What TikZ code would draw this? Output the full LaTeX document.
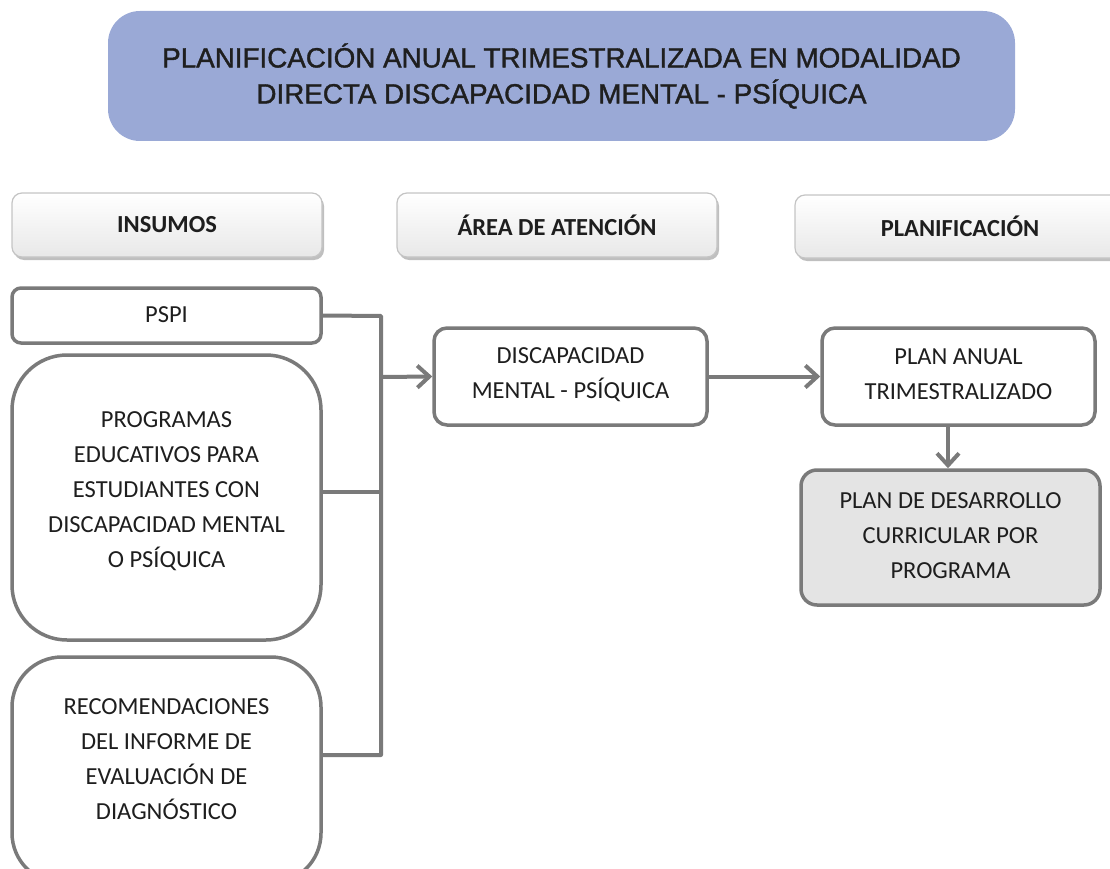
\documentclass[tikz,border=0pt]{standalone}
\usepackage{fontspec}
\setmainfont{Carlito}
\newfontfamily\titlefont[FakeBold=1.3]{Liberation Sans}
\usetikzlibrary{arrows.meta,shadows,positioning}
\definecolor{titleblue}{HTML}{9AA9D6}
\definecolor{linegray}{HTML}{7A7A7A}
\definecolor{hdrborder}{HTML}{C4C4C4}
\definecolor{boxgray}{HTML}{E4E4E4}
\definecolor{txt}{HTML}{1E1E1E}
\tikzset{
  box/.style={draw=linegray, line width=3.5pt, fill=white, align=center, text=txt, font=\fontsize{24.5}{35}\selectfont, inner sep=0pt},
  plain/.style={align=center, text=txt, font=\fontsize{24.5}{35}\selectfont, inner sep=0pt},
  hdr/.style={draw=hdrborder, line width=1.2pt, rounded corners=10pt, top color=white, bottom color=boxgray!85,
     drop shadow={shadow xshift=2pt, shadow yshift=-3pt, opacity=0.25, fill=black},
     text=txt, font=\fontsize{24.5}{25}\selectfont\bfseries, inner sep=0pt},
  conn/.style={draw=linegray, line width=4pt},
  arr/.style={conn, -{Straight Barb[length=12pt,width=22pt,line width=4pt]}},
}
\begin{document}
\begin{tikzpicture}[x=1pt,y=-1pt]
\useasboundingbox (0,0) rectangle (1110,869);
% title
\node[fill=titleblue, rounded corners=32pt, minimum width=907pt, minimum height=130pt, align=center,
  font=\titlefont\fontsize{27.8}{36}\selectfont, text=black!88] (title) at (561.5,76)
  {PLANIFICACIÓN ANUAL TRIMESTRALIZADA EN MODALIDAD\\DIRECTA DISCAPACIDAD MENTAL - PSÍQUICA};
% headers
\node[hdr, minimum width=310pt, minimum height=64pt] (h1) at (167,225) {INSUMOS};
\node[hdr, minimum width=320pt, minimum height=64pt] (h2) at (557,225) {ÁREA DE ATENCIÓN};
\node[hdr, minimum width=330pt, minimum height=63pt] (h3) at (960,226.5) {PLANIFICACIÓN};
% input boxes
\node[box, rounded corners=9pt, minimum width=309pt, minimum height=55pt, text depth=2pt] (pspi) at (166.5,315.5) {PSPI};
\node[box, rounded corners=55pt, minimum width=309pt, minimum height=285pt] (prog) at (166.5,497.5) {};
\node[plain] (progt) at (166.5,491)
  {PROGRAMAS\\EDUCATIVOS PARA\\ESTUDIANTES CON\\DISCAPACIDAD MENTAL\\O PSÍQUICA};
\node[box, rounded corners=50pt, minimum width=309pt, minimum height=226pt] (reco) at (166.5,770) {};
\node[plain] (recot) at (166.5,759)
  {RECOMENDACIONES\\DEL INFORME DE\\EVALUACIÓN DE\\DIAGNÓSTICO};
% middle and right boxes
\node[box, rounded corners=13pt, minimum width=273pt, minimum height=97pt] (disc) at (570.5,376.5) {};
\node[plain] (disct) at (570.5,374.5) {DISCAPACIDAD\\MENTAL - PSÍQUICA};
\node[box, rounded corners=13pt, minimum width=273pt, minimum height=97pt] (plan) at (958.5,376.5) {};
\node[plain] (plant) at (958.5,374.5) {PLAN ANUAL\\TRIMESTRALIZADO};
\node[box, fill=boxgray, rounded corners=16pt, minimum width=299pt, minimum height=135pt] (pdc) at (950.5,537.5) {};
\node[plain] (pdct) at (950.5,535.5) {PLAN DE DESARROLLO\\CURRICULAR POR\\PROGRAMA};
% connectors
\coordinate (jt) at (381,316);
\coordinate (jb) at (381,755);
\coordinate (jm) at (381,377);
\draw[conn, line join=round] (pspi.east) -- (jt) -- (jb) -- (reco.east |- jb);
\draw[conn] (prog.east |- 0,492) -- (jt |- 0,492);
\draw[arr] (jm) -- (disc.west);
\draw[arr] (disc.east) -- (plan.west);
\draw[arr] (plan.south -| 948,0) -- (pdc.north -| 948,0);
\end{tikzpicture}
\end{document}
